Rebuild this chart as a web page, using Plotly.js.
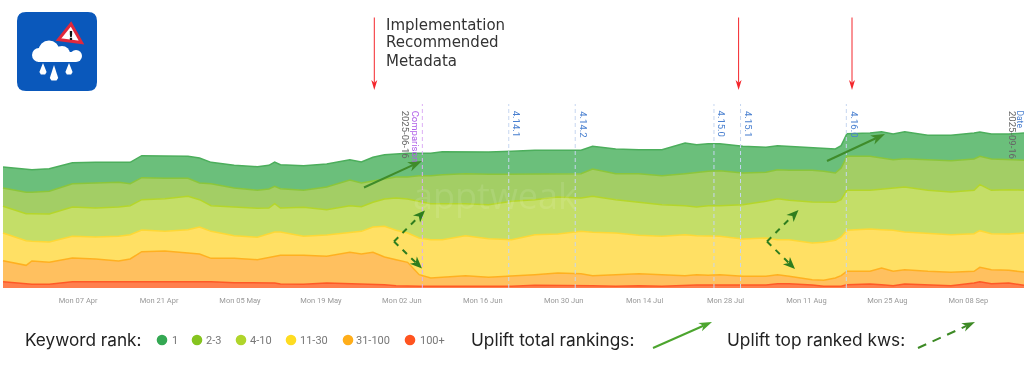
<!DOCTYPE html>
<html><head><meta charset="utf-8">
<script src="https://cdn.plot.ly/plotly-3.0.1.min.js"></script>
<style>html,body{margin:0;padding:0;background:#fff;overflow:hidden}#c{width:1024px;height:375px;filter:blur(0.4px)}</style>
</head><body><div id="c"></div>
<script>
const dayOffsets=[0,4,5,8,12,16,20,22,24,28,32,34,36,40,44,46,47,48,52,56,60,62,64,66,68,70,72,74,76,80,84,88,92,96,100,102,106,110,114,118,120,122,124,128,132,134,136,140,142,144,145,146,150,152,154,156,160,164,168,169,171,174,177];
const rank1=[63,68,68,68,63,62,60,64,66,66,66,75,64,68,71,71,73,72,74,69,61,63,70,73,70,71,67,67,69,65,67,69,70,70,70,68,74,72,78,92,83,83,81,80,75,72,72,70,70,72,67,68,70,79,77,81,73,76,78,73,75,77,82];
const rank2to3=[55,64,64,68,70,75,74,66,66,61,54,50,66,57,54,57,52,58,51,68,77,71,65,60,63,66,77,84,87,90,91,81,78,70,73,82,78,86,87,96,104,103,105,95,87,87,90,95,93,88,95,102,102,93,85,85,92,94,94,85,94,90,90];
const rank4to10=[80,81,83,84,88,87,88,87,91,98,100,82,77,86,87,77,85,72,87,76,82,74,74,82,97,102,110,108,108,96,102,115,105,111,100,108,100,99,95,87,86,90,92,103,110,123,118,123,120,114,112,120,116,122,127,135,128,128,130,138,130,133,128];
const rank11to30=[83,74,59,61,65,66,74,73,65,59,70,81,81,68,67,71,73,70,57,64,58,68,76,92,88,88,110,115,113,120,116,110,120,117,127,130,125,115,115,123,117,119,115,112,115,105,110,110,114,113,116,123,127,115,123,113,115,113,113,110,108,109,118];
const rank31to100=[63,57,70,66,71,68,62,68,90,92,86,83,70,73,70,77,80,86,87,80,94,89,96,83,78,72,35,25,27,32,27,30,32,37,34,30,35,36,35,28,31,29,31,28,26,27,22,16,18,25,32,40,38,50,43,43,41,40,35,43,42,38,40];
const rank100plus=[19,11,11,11,19,19,19,19,19,19,19,19,19,16,15,15,15,12,11,15,13,13,11,10,7,5,5,5,5,5,5,5,8,8,9,7,5,7,5,9,9,9,9,7,9,13,13,9,5,5,5,10,12,10,7,12,9,7,15,19,13,15,7];
const seriesNames=['100+','31-100','11-30','4-10','2-3','1'];
const seriesValues=[rank100plus,rank31to100,rank11to30,rank4to10,rank2to3,rank1];
const lineColors=['#ff5a26','#ffb020','#fdd835','#b5d62a','#8cc63a','#4cae5c'];
const fillColors=['#ff7f4d','#ffc05f','#ffe064','#c4de68','#a3ce65','#6bbf7b'];
const legendColors=['#ff5420','#ffae1a','#fedc21','#b0d52b','#85c41f','#34a853'];
const releaseNames=['4.14.1','4.14.2','4.15.0','4.15.1','4.16.0'];
const releaseDays=[87.5,99,123,127.6,145.9];
const comparisonDay=72.55;
const axisStart='2025-03-25';

const dateOf=d=>new Date(Date.parse(axisStart+'T00:00:00Z')+d*864e5).toISOString().slice(0,19).replace('T',' ');
const px=x=>x/1024, py=y=>1-y/375;
const dates=dayOffsets.map(dateOf);
const traces=seriesNames.map((n,i)=>({type:'scatter',mode:'lines',name:n,x:dates,y:seriesValues[i],stackgroup:'ranks',
  line:{color:lineColors[i],width:1.5,shape:'linear'},fillcolor:fillColors[i],hoverinfo:'skip',showlegend:false}));

const shapes=[],annotations=[];
const P=(path,fill,line)=>shapes.push({type:'path',xref:'paper',yref:'paper',path,fillcolor:fill,line:{color:line||fill,width:line?3:0}});
const pathOf=pts=>'M'+pts.map(p=>px(p[0])+','+py(p[1])).join('L')+'Z';
function arrow(x0,y0,x1,y1,color,w,dash,len,wid){
  const a=Math.atan2(y1-y0,x1-x0),c=Math.cos(a),s=Math.sin(a);
  const bx=x1-c*len*0.72,by=y1-s*len*0.72;
  shapes.push({type:'line',xref:'paper',yref:'paper',x0:px(x0),y0:py(y0),x1:px(bx),y1:py(by),line:{color,width:w,dash:dash||'solid'}});
  const l=[x1-c*len-s*wid/2,y1-s*len+c*wid/2],r=[x1-c*len+s*wid/2,y1-s*len-c*wid/2];
  P(pathOf([[x1,y1],l,[bx,by],r]),color);
}
function text(t,x,y,size,color,font,extra){
  annotations.push(Object.assign({text:t,xref:'paper',yref:'paper',x:px(x),y:py(y),xanchor:'left',yanchor:'middle',showarrow:false,borderpad:0,borderwidth:0,
    font:{family:font||'Inter, sans-serif',size,color}},extra||{}));
}
const vtop=py(104),vbot=py(288);
function vline(day,color){shapes.push({type:'line',xref:'x',yref:'paper',x0:dateOf(day),x1:dateOf(day),y0:vbot,y1:vtop,line:{color,width:1,dash:'4px,3px'}});}
function vlabel(t,day,shift,color){annotations.push({text:t,xref:'x',yref:'paper',x:dateOf(day),xshift:shift,y:py(110),yanchor:'top',xanchor:'center',textangle:90,showarrow:false,borderpad:0,
  font:{family:'Roboto, sans-serif',size:9.5,color}});}
vline(comparisonDay,'#dcaef5');
releaseDays.forEach((d,i)=>{vline(d,'#c6d6f0');vlabel(releaseNames[i],d,8.5,'#4a80d0');});
vlabel('Comparison',comparisonDay,-6,'#b060e8');
vlabel('2025-06-16',comparisonDay,-16,'#666666');
annotations.push({text:'2025-09-16',xref:'paper',yref:'paper',x:px(1013),y:py(110),yanchor:'top',xanchor:'center',textangle:90,showarrow:false,borderpad:0,font:{family:'Roboto, sans-serif',size:9.5,color:'#666666'}});
annotations.push({text:'Date',xref:'paper',yref:'paper',x:px(1019.6),y:py(109),yanchor:'top',xanchor:'center',textangle:90,showarrow:false,borderpad:0,font:{family:'Roboto, sans-serif',size:8.5,color:'#4a80d0'}});
text('apptweak',413,195,36,'rgba(255,255,255,0.10)','"Open Sans", sans-serif');

// uplift arrows
const solid='#3f8c2a',dashed='#2e7d1e';
arrow(364,187.5,422,161,solid,2,null,14,10);
arrow(827,161,885,134,solid,2,null,14,10);
arrow(394,241.5,425,210.5,dashed,2,'6px,6px',12,10);
arrow(394,241.5,422,268.5,dashed,2,'6px,6px',12,10);
arrow(767,241.5,798.5,210,dashed,2,'6px,6px',12,10);
arrow(767,241.5,795,269,dashed,2,'6px,6px',12,10);
// implementation arrows
[374.3,738.6,852].forEach(x=>arrow(x,17.5,x,90,'#f4262c',1,null,10,6));
// headline text
['Implementation','Recommended','Metadata'].forEach((t,i)=>text(t,386,24.5+i*18,15,'#333333','"DejaVu Sans", sans-serif'));
// legend
text('Keyword rank:',25,339,17.2,'#222222');
const legendDots=[162,197,241,291,348,410], legendLabels=[172,206,250,300,356,419.5];
seriesNames.slice().reverse().forEach((n,i)=>{
  const x=legendDots[i],col=legendColors[5-i];
  shapes.push({type:'circle',xref:'paper',yref:'paper',x0:px(x-5.3),x1:px(x+5.3),y0:py(345.3),y1:py(334.7),fillcolor:col,line:{width:0}});
  text(n,legendLabels[i],340.5,11,'#777777','Roboto, sans-serif');
});
text('Uplift total rankings:',471,339,17.3,'#222222');
arrow(653,348,712,322,'#4ca52e',2,null,13,9);
text('Uplift top ranked kws:',727,339,17.3,'#222222');
arrow(918,348,975,322,'#3d8a25',2,'9px,7px',13,9);

// logo
const R=9,L=17,T=12,RR=97,B=91;
const rr=`M${px(L+R)},${py(T)}L${px(RR-R)},${py(T)}Q${px(RR)},${py(T)} ${px(RR)},${py(T+R)}L${px(RR)},${py(B-R)}Q${px(RR)},${py(B)} ${px(RR-R)},${py(B)}L${px(L+R)},${py(B)}Q${px(L)},${py(B)} ${px(L)},${py(B-R)}L${px(L)},${py(T+R)}Q${px(L)},${py(T)} ${px(L+R)},${py(T)}Z`;
P(rr,'#0a58bb');
[[49,51,10.5],[62,54,8],[39,55,7],[76,56,6]].forEach(c=>shapes.push({type:'circle',xref:'paper',yref:'paper',x0:px(c[0]-c[2]),x1:px(c[0]+c[2]),y0:py(c[1]+c[2]),y1:py(c[1]-c[2]),fillcolor:'#ffffff',line:{width:0}}));
P(pathOf([[38,52],[76,52],[76,62],[38,62]]),'#ffffff');
[[43,63,75,3.6],[54,65,81,4.2],[69,63,75,3.6]].forEach(d=>{
  P(pathOf([[d[0],d[1]],[d[0]+d[3],d[2]-3],[d[0]+d[3]*.6,d[2]-.6],[d[0]-d[3]*.6,d[2]-.6],[d[0]-d[3],d[2]-3]]),'#ffffff');
});
P(pathOf([[71,24],[58.5,39.5],[81.5,42.5]]),'#ffffff','#e0283c');
text('!',71,35,13,'#111111','"DejaVu Sans", sans-serif',{xanchor:'center',font:{family:'"DejaVu Sans", sans-serif',size:13,color:'#111111',weight:700}});

const layout={width:1024,height:375,margin:{l:0,r:0,t:0,b:0},paper_bgcolor:'#ffffff',plot_bgcolor:'#ffffff',showlegend:false,
  xaxis:{type:'date',domain:[0,1],range:[dateOf(-0.52),dateOf(176.64)],tick0:'2025-04-07',dtick:14*864e5,tickformat:'%a %d %b',showgrid:false,zeroline:false,showline:false,ticks:'outside',ticklen:5,tickcolor:'rgba(0,0,0,0)',
    tickfont:{family:'Roboto, sans-serif',size:7.5,color:'#999999'},automargin:false},
  yaxis:{domain:[87/375,275/375],range:[0,564],visible:false,fixedrange:true},
  shapes,annotations};
Plotly.newPlot('c',traces,layout,{displayModeBar:false,staticPlot:true});
</script></body></html>
